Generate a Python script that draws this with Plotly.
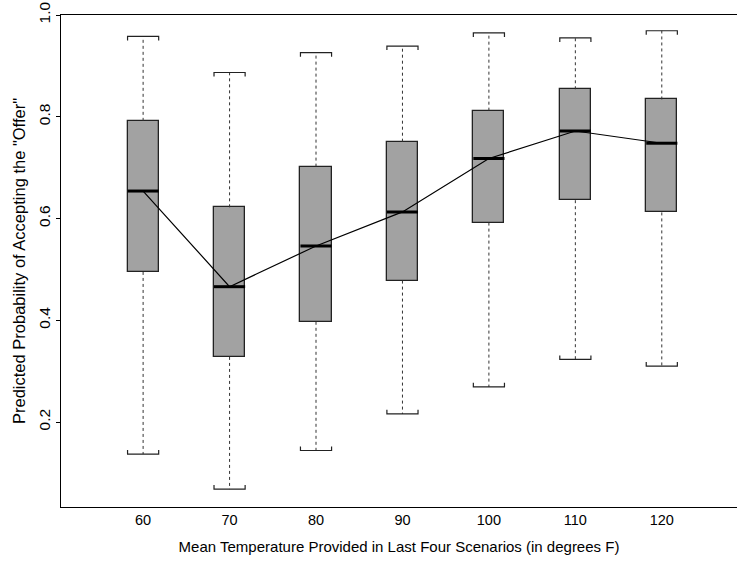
import plotly.graph_objects as go

temps = [60, 70, 80, 90, 100, 110, 120]
tick_labels = ["60", "70", "80", "90", "100", "110", "120"]
lower = [0.137, 0.068, 0.144, 0.216, 0.269, 0.323, 0.310]
q1 = [0.495, 0.328, 0.397, 0.478, 0.592, 0.636, 0.612]
median = [0.654, 0.466, 0.546, 0.613, 0.718, 0.772, 0.748]
q3 = [0.792, 0.622, 0.702, 0.751, 0.812, 0.854, 0.834]
upper = [0.958, 0.887, 0.926, 0.939, 0.965, 0.955, 0.969]

half_w = 1.8
cap_tick = 0.008

fig = go.Figure()

# whiskers (dotted)
wx, wy = [], []
for t, lo, a, b, hi in zip(temps, lower, q1, q3, upper):
    wx += [t, t, None, t, t, None]
    wy += [b, hi, None, a, lo, None]
fig.add_trace(go.Scatter(x=wx, y=wy, mode="lines",
                         line=dict(color="#333333", width=1, dash="dot"),
                         hoverinfo="skip", showlegend=False))

# caps (brackets)
cx, cy = [], []
for t, lo, hi in zip(temps, lower, upper):
    cx += [t - half_w, t - half_w, t + half_w, t + half_w, None]
    cy += [hi - cap_tick, hi, hi, hi - cap_tick, None]
    cx += [t - half_w, t - half_w, t + half_w, t + half_w, None]
    cy += [lo + cap_tick, lo, lo, lo + cap_tick, None]
fig.add_trace(go.Scatter(x=cx, y=cy, mode="lines",
                         line=dict(color="#222222", width=1.2),
                         hoverinfo="skip", showlegend=False))

# boxes
fig.add_trace(go.Bar(x=temps, base=q1, y=[b - a for a, b in zip(q1, q3)],
                     width=2 * half_w,
                     marker=dict(color="#a2a2a2", line=dict(color="#222222", width=1.3)),
                     hoverinfo="skip", showlegend=False))

# medians (thick)
mx, my = [], []
for t, m in zip(temps, median):
    mx += [t - half_w, t + half_w, None]
    my += [m, m, None]
fig.add_trace(go.Scatter(x=mx, y=my, mode="lines",
                         line=dict(color="black", width=3),
                         hoverinfo="skip", showlegend=False))

# line connecting medians
fig.add_trace(go.Scatter(x=temps, y=median, mode="lines",
                         line=dict(color="black", width=1.2),
                         hoverinfo="skip", showlegend=False))

fig.update_layout(
    width=737, height=566,
    margin=dict(l=61, r=0, t=15, b=59),
    paper_bgcolor="white", plot_bgcolor="white",
    font=dict(family="Liberation Sans, Arial, sans-serif", size=14, color="black"),
    showlegend=False,
    bargap=0,
)
fig.update_xaxes(
    range=[50.5, 128.7], tickmode="array", tickvals=temps, ticktext=tick_labels,
    showgrid=False, zeroline=False, showline=True, linecolor="black", linewidth=1,
    mirror=True, ticks="", tickfont=dict(size=14.5),
    title=dict(text="Mean Temperature Provided in Last Four Scenarios (in degrees F)",
               font=dict(size=15), standoff=14),
)
fig.update_yaxes(
    range=[0.033, 1.0], tickmode="array", tickvals=[0.2, 0.4, 0.6, 0.8, 1.0],
    ticktext=["0.2", "0.4", "0.6", "0.8", "1.0"],
    showgrid=False, zeroline=False, showline=True, linecolor="black", linewidth=1,
    mirror=False, ticks="outside", ticklen=4, tickcolor="black", tickangle=-90,
    tickfont=dict(size=15.5),
    title=dict(text='Predicted Probability of Accepting the "Offer"',
               font=dict(size=16.5), standoff=6),
)

fig.write_html("out.html")
